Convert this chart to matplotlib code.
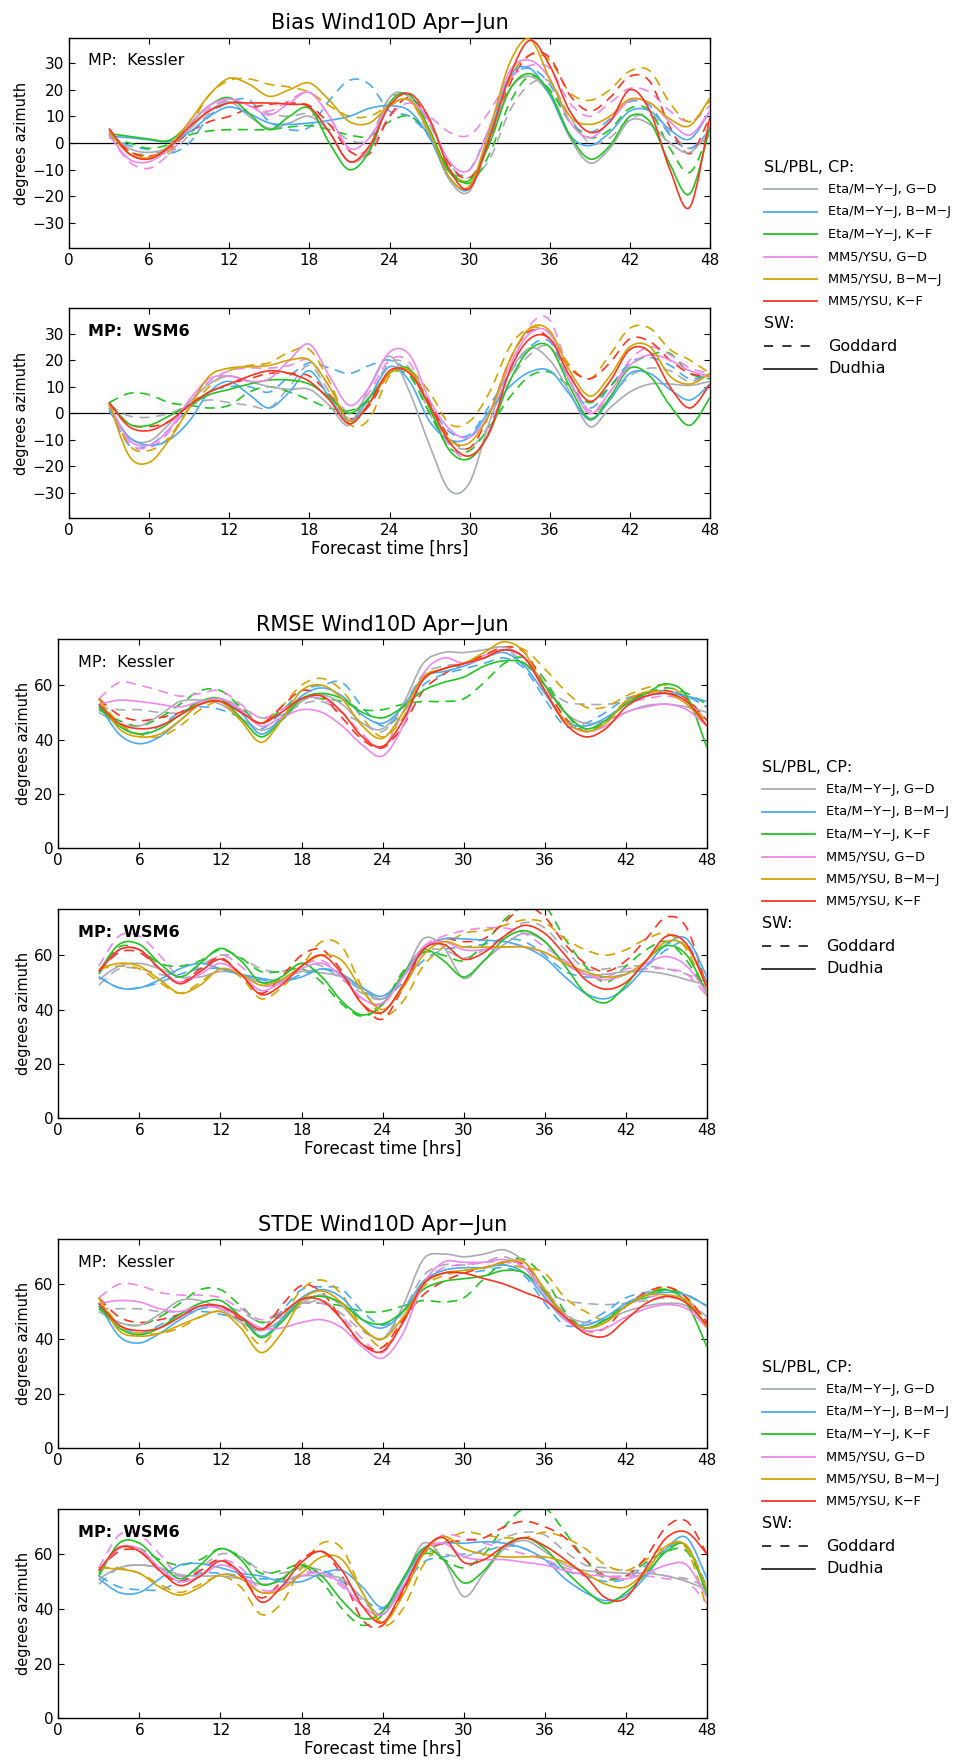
import matplotlib
matplotlib.use("Agg")
import matplotlib.pyplot as plt
from matplotlib.lines import Line2D
from matplotlib.path import Path
from matplotlib.patches import PathPatch
import numpy as np

plt.rcParams['font.family'] = ['DejaVu Sans']
plt.rcParams['axes.unicode_minus'] = True

# forecast hours (every 1.5 h from 3 to 48)
hours = np.arange(3, 48.1, 1.5)

configs = ['Eta/M−Y−J, G−D', 'Eta/M−Y−J, B−M−J', 'Eta/M−Y−J, K−F',
           'MM5/YSU, G−D', 'MM5/YSU, B−M−J', 'MM5/YSU, K−F']
colors = ['#a9abb3', '#4caaf0', '#22c422', '#ee88ee', '#d4a300', '#ff3322']

# ---- Bias, MP: Kessler ----  (rows: configs order)
bias_kessler_dudhia = [
    [4, -2, -3.5, -1.5, 5, 12, 15.5, 10, 5.5, 7.5, 10, 4, -7, -2, 17, 17, 3, -14, -18, 2, 20, 25, 18, 2, -7.5, -2, 8.5, 7, 0, -3.5, 5],
    [2.5, 2, 1.2, 0.5, 4, 10, 13.5, 11, 7.5, 7, 7.5, 8.5, 10, 13, 14, 12, 2, -13, -17, 3, 25, 28, 18, 3, -1, 4, 12, 12, 5, 1.5, 12],
    [3.5, 2.5, 1.5, 1, 7, 14, 17, 11, 5, 10, 13, 0, -10, -3, 15, 18, 5, -11, -14, 0, 20, 26, 19, 3, -6, -1, 10, 8, -8, -19, 6],
    [3, -6, -7, -2, 7, 14, 16.5, 14, 10.5, 15, 19, 10, -2, 2, 14, 16, 8, -7, -10, 6, 27, 31, 24, 8, 2, 8, 16, 15, 8, 3, 12],
    [4, -4, -5.5, -1, 8, 18, 24.3, 22, 17.5, 20, 22.5, 16, 8, 7.5, 14, 16, 4, -13, -16, 5, 30, 39, 24, 10, 7, 10, 16.5, 15, 9, 6.5, 17],
    [5.5, -4, -6, -1.5, 6, 12, 15, 15, 15, 14.5, 13.5, 4, -7, -1, 14, 18.5, 9, -10, -17, 2, 25, 38.5, 29, 12, 4, 8, 20, 12, -10, -24, 10],
]
bias_kessler_goddard = [
    [4, -3, -4.5, -4, 3, 11, 15, 14, 11, 10, 11, 7, 1, 2, 17, 16, 7, -8, -13, -6, 12, 22, 23, 10, 0, 2, 9, 10.5, 4, -2, 3],
    [3, -1, -2.5, -4, 0, 10, 15.5, 16, 8, 5, 6, 16, 23.5, 22, 12, 10, 2, -11, -10, 6, 24, 28, 22, 8, 4, 9, 15.5, 14, 3, -2, 5],
    [2, 0, -2, -0.5, 3, 4.5, 5, 5, 5, 6, 6.5, 5, 3, 2.5, 8, 10, 3, -10, -15, -4, 15, 25, 20, 8, 2, 5, 13, 12, -2, -11, 5],
    [3, -7, -9.5, -4, 5, 13, 16, 14, 12, 16, 19, 10, -3, -2, 10, 15, 10, 4, 3, 12, 24, 29, 28, 15, 10, 15, 20.5, 19, 12, 8, 14],
    [4, -3, -5, -3, 6, 18, 23.5, 24, 22, 21, 19, 14, 10, 10, 14, 16, 3, -10, -14, 0, 24, 33, 31, 19, 16, 20, 27, 27, 15, 8, 16],
    [5, -3, -5, -2, 4, 8, 10, 13, 14.5, 15, 14, 7, -3, -4, 10, 17, 8, -8, -13, 0, 22, 33, 32, 18, 12, 17, 25, 23, 6, -4, 10],
]

# ---- Bias, MP: WSM6 ----
bias_wsm6_dudhia = [
    [3, -9, -10.5, -4, 4, 11, 14, 12, 10, 9, 9, 3, -4.5, 10, 21.5, 8, -12, -29, -26, -3, 15, 24.5, 20, 8, -5, 2, 8, 11, 11, 10.5, 12],
    [1, -9, -12, -10, -3, 8, 12, 7, 2, 8, 16, 6, -3, 6, 17.5, 12, -3, -10, -9, 1, 10, 15.5, 16, 7, -2.5, 5, 15, 15, 9, 5, 11],
    [4, -4, -4.5, -1, 3, 7, 9, 11, 12.5, 12.5, 11, 6, 0, 6, 15, 16.5, 2, -14, -17, -7, 12, 24, 25, 10, -2, 6, 17, 14, 3, -4.5, 6],
    [3, -10, -12, -6, 5, 13, 14, 12, 13, 20, 26, 14, 3, 10, 23, 22, 5, -6, -9, 0, 18, 30, 30, 12, 0, 8, 18, 22, 20, 16, 14],
    [4, -16, -18.5, -10, 2, 14, 17, 17.5, 18, 20, 20, 10, -3, 4, 15, 16, 3, -10, -11, 0, 20, 32, 31, 16, 6.5, 14, 25, 25, 14, 11, 15],
    [4, -5, -6.5, -3, 3, 8, 11, 14, 16, 15, 12, 5, -4, 4, 16, 15, 3, -11, -16, -7, 16, 28, 28, 14, 4.5, 12, 24, 23, 10, 2, 11],
]
bias_wsm6_goddard = [
    [3, -1, -1.5, 0, 3, 5, 4, 3, 2, 10, 18, 8, -2, 6, 19, 17, 0, -11, -13, -4, 12, 22, 25, 12, 0, 6, 14, 17, 16, 12, 15],
    [2, -12, -12, -6, 2, 8, 10, 10, 8, 14, 19, 17, 15, 18, 20, 15, 3, -7, -8, 3, 15, 25, 27, 12, 2, 10, 19, 21, 18, 13, 15],
    [4, 7.5, 7, 4, 3, 2, 3, 8, 10, 8, 5, 2, 1, 5, 15, 14, 0, -13, -14, -5, 6, 14, 15.5, 10, 4, 10, 18, 22, 22.5, 15, 13],
    [3, -11, -13, -7, 4, 12, 16, 17, 17, 18, 20, 10, 0, 8, 20, 19, 2, -12, -17, -6, 16, 33, 35, 15, 1, 8, 20, 25, 22, 17, 15],
    [4, -12, -14, -9, 2, 10, 16, 18, 19, 23, 24, 12, -4, -2, 14, 16, 8, -4, -3, 8, 25, 32, 30, 18, 13, 22, 32, 32, 24, 20, 15],
    [4, -4, -5, -3, 3, 8, 11, 13, 15, 15, 14, 7, -2, 3, 15, 16, 4, -9, -13, 0, 20, 31, 28, 17, 13, 19, 28, 27, 20, 15, 14],
]

# ---- RMSE, MP: Kessler ----
rmse_kessler_dudhia = [
    [50, 46, 45, 49, 54, 54.5, 53, 48, 43.5, 47, 54, 56.5, 53, 46, 44, 53, 68, 72, 72, 73, 74, 70, 60, 50, 46, 47, 50, 52.5, 53, 52, 50],
    [53, 42, 38.5, 41, 47, 53, 55, 50, 42, 48, 56, 59, 56, 49, 46, 52, 63, 65, 67, 70, 72, 67, 57, 47, 45, 48, 53, 56, 57, 56, 54],
    [52, 45, 42, 44, 49, 54, 55, 48, 41, 47, 55, 57, 55, 50, 48, 52, 58, 61, 63, 67, 69, 68, 60, 50, 44, 47, 53, 57, 60.5, 56, 37],
    [53, 54.5, 54, 53, 52, 54, 55, 51, 45, 48, 51, 50, 45, 38, 34, 45, 64, 70, 68, 70, 73, 70, 58, 47, 43, 45, 50, 52, 53, 51, 45],
    [55, 44, 41, 42, 47, 53, 54, 47, 39, 47, 58, 60, 55, 45, 40.5, 50, 63, 66, 68, 72, 76, 72, 58, 47, 43, 46, 54, 57.5, 57, 53, 45],
    [53, 46, 44, 45, 49, 53, 54, 50, 46, 50, 55, 56, 50, 41, 37.5, 47, 62, 66, 68, 70, 73, 70, 58, 46, 41, 44, 52, 56, 57, 54, 45],
]
rmse_kessler_goddard = [
    [52, 51, 51, 50, 50, 53, 55, 52, 48, 49, 53, 54, 50, 46, 43, 52, 64, 67, 68, 70, 73, 68, 60, 54, 53, 53, 54, 56, 57, 56, 52],
    [52, 45, 42, 45, 50, 52, 51, 48, 44, 50, 58, 60, 61, 52, 45, 50, 60, 64, 66, 68, 70, 66, 55, 45, 46, 50, 55, 57, 58, 56, 52],
    [51, 47, 45, 48, 53, 58, 58, 52, 46, 51, 55, 55, 54, 51, 51, 53, 54, 54, 55, 61, 68, 70, 62, 50, 43, 47, 54, 57, 59, 57, 53],
    [55, 61, 60, 58, 56, 57, 58, 53, 48, 51, 55, 55, 50, 42, 37, 50, 62, 66, 68, 71, 73, 70, 60, 50, 44, 47, 53, 55, 56, 54, 47],
    [55, 46, 42, 41, 45, 51, 54, 50, 46, 52, 60, 62.5, 58, 48, 41, 48, 62, 66, 68, 71, 74, 73, 66, 58, 52, 52, 56, 59, 60, 55, 46],
    [55, 49, 47, 48, 50, 54, 55, 51, 46, 52, 58, 56, 48, 40, 37, 45, 58, 64, 68, 71, 74, 72, 60, 48, 43, 46, 54, 57, 58, 55, 47],
]

# ---- RMSE, MP: WSM6 ----
rmse_wsm6_dudhia = [
    [51, 56, 57, 55, 52, 52, 54, 53, 50, 51, 54, 53.5, 52, 48, 44, 52, 66, 63, 51.5, 58, 64, 68, 65, 57, 53, 53, 54, 54, 53, 51, 49],
    [52, 48, 48, 51, 55, 57, 55, 53, 51.5, 50.5, 52, 55, 53, 48, 45, 52, 62, 66, 66, 65.5, 65, 63, 59, 52, 46, 44, 48, 56, 64, 66, 52],
    [54, 64, 64, 57, 52, 57, 62.5, 58, 50, 52, 57, 52, 43, 38, 42, 53, 62, 58, 52, 58, 66, 69, 65, 56, 46, 42.5, 49, 58, 63.5, 60, 46],
    [54, 62, 62, 55, 50, 53, 57, 53, 47, 50, 55, 57, 52, 44, 42.5, 52, 63, 65, 62, 62, 63, 63, 61, 57, 53, 51, 53, 57, 59.5, 56, 46],
    [55, 57, 56, 51, 46, 49, 55, 53, 49, 51, 56, 60, 58, 47, 40, 48, 60, 65, 63, 63, 63, 63, 61, 57, 54, 52, 53, 58, 65, 63, 49],
    [54, 62, 62, 55, 49.5, 54, 58.5, 53, 45.5, 49, 56, 60, 53, 42, 39, 49, 62, 64, 58.5, 61, 67, 71, 68, 60, 51, 47.5, 50, 58, 67, 64, 48],
]
rmse_wsm6_goddard = [
    [49, 55, 55, 53, 52, 56, 60, 59, 55, 54, 57, 56, 51, 46, 44, 52, 61, 62, 59, 62, 67, 72, 70, 62, 55, 55, 56, 56, 55, 53, 50],
    [52, 48, 48, 50, 53, 55, 55, 53, 51, 50, 53, 55, 52, 47, 44, 50, 58, 62, 63, 64, 66, 65, 60, 54, 52, 52, 53, 56, 62, 64, 50],
    [53, 63, 62, 57, 56, 58, 62, 59, 54, 54, 55, 50, 42, 37.5, 42, 54, 61, 60, 58, 64, 73, 78, 78, 66, 56, 50, 56, 62, 65, 58, 46],
    [56, 67, 67, 60, 52, 54, 60, 56, 49, 50, 56, 58, 52, 44, 42, 52, 63, 67, 69, 70, 70, 68, 63, 58, 53, 52, 55, 55, 55, 53, 45],
    [55, 56, 55, 50, 46, 50, 55, 52, 44, 48, 56, 65, 63, 48, 38, 43, 56, 63, 68, 69, 71, 73, 72, 66, 62, 60, 62, 66, 68, 62, 45],
    [54, 61, 61, 55, 50, 55, 59, 53, 46, 52, 60, 62, 54, 42, 36.5, 48, 62, 66, 65, 66, 72, 78, 74, 64, 57, 54, 58, 66, 74, 70, 48],
]

# ---- STDE, MP: Kessler ----
stde_kessler_dudhia = [
    [50, 46, 45, 49, 54, 54, 51, 46, 43, 47, 53, 56, 52, 44, 40, 52, 69, 71, 70, 71, 72.5, 68, 58, 49, 46, 47, 50, 52, 53, 52, 45],
    [53, 41, 38.5, 42, 47, 51, 52, 48, 41, 47, 55, 58, 55, 47, 44, 50, 61, 65, 66, 66, 67, 64, 55, 47, 45, 48, 53, 56, 57, 56, 52],
    [52, 44, 41.5, 44, 49, 53, 54, 48, 40.5, 46, 54, 55.5, 53, 47, 45.5, 50, 58, 61, 62, 63, 65, 64, 57, 48, 44, 47, 52, 56, 58, 53, 37],
    [53, 54, 53.5, 51, 50, 52, 51, 48, 44, 44, 46, 47, 44, 37, 33, 42, 60, 68, 68, 68, 69, 66, 56, 47, 43, 44, 48, 51, 52.5, 51, 44],
    [55, 43, 41, 42, 45, 48, 50, 44, 35, 42, 54, 57.5, 53, 44, 40, 48, 60, 64, 65, 66, 68, 68, 58, 48, 44, 46, 52, 56, 56, 54, 44],
    [53, 45, 43, 44, 48, 52, 52, 48, 43.5, 49, 54.5, 54, 47, 38, 35.5, 46, 60, 64, 64, 62, 60, 57, 54, 48, 42, 41, 47, 53, 55.5, 53, 45],
]
stde_kessler_goddard = [
    [51, 51, 51, 50, 50, 51, 52, 50, 46, 48, 52, 54, 49, 43, 40, 50, 63, 67, 67, 68, 70, 66, 58, 54, 53, 52.5, 53, 54, 55, 54, 48],
    [52, 45, 42, 45, 49, 50, 49, 47, 43, 50, 58, 59, 58, 50, 45, 50, 60, 64, 64, 65, 66, 63, 53, 45, 46, 50, 55, 57, 58, 56, 52],
    [51, 46, 45, 48, 53, 58, 58, 52, 46, 50, 53, 53, 52, 50, 50, 52, 54, 53.5, 55, 62, 68, 69, 62, 50, 44, 47, 53, 55, 58, 56, 52],
    [55, 60, 59.5, 57, 56, 56, 55, 51, 47, 50, 53, 53, 48, 40, 35, 46, 60, 66, 67, 68, 68, 66, 57, 48, 44, 46, 52, 55, 56, 54, 47],
    [55, 45, 42, 42, 44, 48, 50, 46, 38, 47, 58, 61.5, 56, 44, 37, 46, 59, 63, 65, 66, 67, 66, 64, 55, 50, 47, 52, 56, 59, 55, 46],
    [55, 48, 46, 47, 49, 52, 52, 47, 43, 52, 59.5, 57, 47, 38, 37, 47, 56, 61, 64, 66, 68, 67, 58, 49, 43, 44, 52, 57, 59, 55, 46],
]

# ---- STDE, MP: WSM6 ----
stde_wsm6_dudhia = [
    [51, 55, 56, 55, 52.5, 52, 52, 51, 49, 50, 52, 52, 51, 44, 38, 50, 64, 58, 44.5, 53, 62, 65, 61, 56, 54, 53.5, 53, 53, 52, 50, 47],
    [51, 46, 46, 51, 56, 56.5, 55, 53, 52, 50, 50, 53, 54, 48, 40.5, 50, 62, 64, 64, 64.5, 64, 62, 58, 51, 46, 43, 45, 52, 62, 66, 51],
    [52, 64, 64, 57, 51, 56, 62, 58, 49, 51, 56, 52, 43, 36.5, 39, 51, 62, 58, 49.5, 54, 63, 66, 62, 54, 47, 42, 46, 53, 61, 63, 45],
    [54, 62, 62, 55, 50, 52, 56, 53, 46, 48, 52, 53, 49, 41, 38, 48, 61, 64, 59, 58, 58, 57, 56, 54, 52.5, 52, 51, 53, 56, 56, 44],
    [55, 54.5, 53, 48, 45, 48, 52.5, 51, 46, 47, 53, 59, 58, 46, 35, 45, 60, 66.5, 62, 60, 59, 59, 59, 57, 53, 49, 48, 54, 63, 63, 47],
    [54, 62.5, 61, 54, 48.5, 52, 57.5, 53, 42.5, 48, 57, 61, 54, 41, 35, 47, 61, 66, 57, 58, 63, 66, 63, 58, 52, 44, 44, 55, 66, 68, 60],
]
stde_wsm6_goddard = [
    [49, 55, 56, 55, 52, 55, 60, 59, 54, 53, 55, 54, 49, 43, 38, 48, 60, 60, 59, 62, 66, 68, 67, 61, 56, 55, 54, 54, 52, 51, 48],
    [52, 48, 47, 47, 50, 53, 53, 52, 51, 51, 52, 54, 50, 44, 40, 48, 57, 59, 60, 61, 63, 62, 58, 54, 52, 50, 51, 56, 62, 63, 48],
    [53, 62, 62, 58, 56, 58, 62, 59, 53, 54, 56, 50, 40, 34, 38, 51, 60, 58, 55, 60, 70, 77, 77, 68, 58, 51, 52, 57, 61, 61, 47],
    [55, 67, 67, 60, 52, 54, 58, 55, 47, 48, 53, 53, 48, 41, 38, 48, 61, 67, 66, 64, 62, 60, 58, 55, 53, 52, 52, 52, 51, 50, 42],
    [55, 55, 53, 49, 46, 49, 52, 48, 38, 42, 55, 64, 62, 46, 34, 40, 56, 64, 68, 67, 66, 66, 68, 66, 62, 56, 54, 58, 63, 62, 40],
    [54, 61, 61, 54, 50, 54, 58, 52, 44, 50, 58, 61, 52, 36, 34, 46, 60, 64, 65, 66, 70, 72, 70, 66, 58, 52, 52, 59, 70, 72, 60],
]

W, H = 960, 1762
fig = plt.figure(figsize=(W / 100, H / 100), dpi=100)


def px_axes(left, right, top, bottom):
    return [left / W, 1 - bottom / H, (right - left) / W, (bottom - top) / H]


def curve_through(x, y):
    # smooth Bezier path passing through every read point
    x = np.asarray(x, float)
    y = np.asarray(y, float)
    n = len(x)
    verts = [(x[0], y[0])]
    codes = [Path.MOVETO]
    for i in range(n - 1):
        xa, ya = (x[i - 1], y[i - 1]) if i > 0 else (x[i], y[i])
        xd, yd = (x[i + 2], y[i + 2]) if i + 2 < n else (x[i + 1], y[i + 1])
        verts.append((x[i] + (x[i + 1] - xa) / 6, y[i] + (y[i + 1] - ya) / 6))
        verts.append((x[i + 1] - (xd - x[i]) / 6, y[i + 1] - (yd - y[i]) / 6))
        verts.append((x[i + 1], y[i + 1]))
        codes += [Path.CURVE4] * 3
    return Path(verts, codes)


def draw_panel(rect, dudhia, goddard, ylim, yticks, mp, bold, title=None, xlabel=False, zero=False):
    ax = fig.add_axes(rect)
    if zero:
        ax.axhline(0, color='k', lw=0.9, zorder=1)
    for k in range(6):
        ax.add_patch(PathPatch(curve_through(hours, goddard[k]), fill=False,
                               edgecolor=colors[k], lw=1.2, linestyle=(0, (6, 4)), zorder=2))
        ax.add_patch(PathPatch(curve_through(hours, dudhia[k]), fill=False,
                               edgecolor=colors[k], lw=1.2, zorder=3))
    ax.set_xlim(0, 48)
    ax.set_ylim(*ylim)
    ax.set_xticks(range(0, 49, 6))
    ax.set_yticks(yticks)
    ax.tick_params(direction='in', top=True, right=True, length=4, labelsize=11)
    for s in ax.spines.values():
        s.set_linewidth(1.0)
    ax.set_ylabel('degrees azimuth', fontsize=10.5, labelpad=2)
    if xlabel:
        ax.set_xlabel('Forecast time [hrs]', fontsize=12, labelpad=1)
    if title:
        ax.set_title(title, fontsize=15, pad=6)
    ax.text(0.03, 0.89, mp, transform=ax.transAxes, fontsize=11.5,
            fontweight='bold' if bold else 'normal', va='center')
    return ax


def draw_key(top, x0):
    def fy(p):
        return 1 - p / H
    step = 22.4
    fig.text(x0 / W, fy(top), 'SL/PBL, CP:', fontsize=11.5, va='center')
    for k in range(6):
        y = fy(top + step * (k + 1))
        fig.add_artist(Line2D([x0 / W, (x0 + 53) / W], [y, y], color=colors[k], lw=1.3))
        fig.text((x0 + 64) / W, y, configs[k], fontsize=9.3, va='center')
    fig.text(x0 / W, fy(top + step * 7), 'SW:', fontsize=11.5, va='center')
    y = fy(top + step * 8)
    fig.add_artist(Line2D([x0 / W, (x0 + 53) / W], [y, y], color='k', lw=1.1, dashes=(6, 6)))
    fig.text((x0 + 64) / W, y, 'Goddard', fontsize=11.5, va='center')
    y = fy(top + step * 9)
    fig.add_artist(Line2D([x0 / W, (x0 + 53) / W], [y, y], color='k', lw=1.1))
    fig.text((x0 + 64) / W, y, 'Dudhia', fontsize=11.5, va='center')


bias_ticks = [-30, -20, -10, 0, 10, 20, 30]
err_ticks = [0, 20, 40, 60]

draw_panel(px_axes(69, 710, 37.7, 248.3), bias_kessler_dudhia, bias_kessler_goddard,
           (-39.5, 39.5), bias_ticks, 'MP:  Kessler', False, 'Bias Wind10D Apr−Jun', zero=True)
draw_panel(px_axes(69, 710, 308.3, 518.3), bias_wsm6_dudhia, bias_wsm6_goddard,
           (-39.5, 39.5), bias_ticks, 'MP:  WSM6', True, xlabel=True, zero=True)
draw_panel(px_axes(58.3, 707, 639, 848.3), rmse_kessler_dudhia, rmse_kessler_goddard,
           (0, 77), err_ticks, 'MP:  Kessler', False, 'RMSE Wind10D Apr−Jun')
draw_panel(px_axes(58.3, 707, 909, 1118.3), rmse_wsm6_dudhia, rmse_wsm6_goddard,
           (0, 77), err_ticks, 'MP:  WSM6', True, xlabel=True)
draw_panel(px_axes(58.3, 707, 1239, 1448.3), stde_kessler_dudhia, stde_kessler_goddard,
           (0, 76.5), err_ticks, 'MP:  Kessler', False, 'STDE Wind10D Apr−Jun')
draw_panel(px_axes(58.3, 707, 1509, 1718.3), stde_wsm6_dudhia, stde_wsm6_goddard,
           (0, 76.5), err_ticks, 'MP:  WSM6', True, xlabel=True)

draw_key(167, 764)
draw_key(767, 762)
draw_key(1367, 762)

fig.savefig('out.png', dpi=100)
